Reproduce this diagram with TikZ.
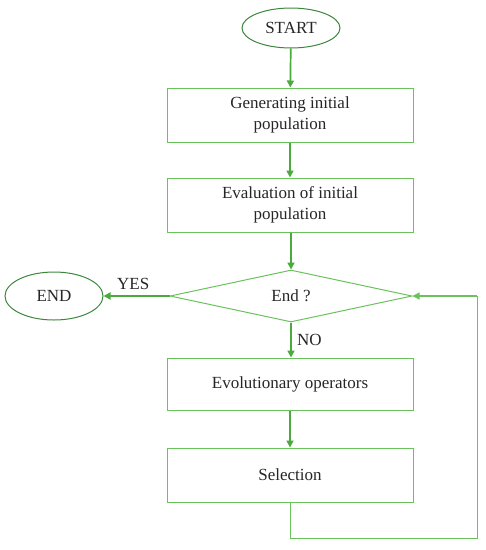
\documentclass[tikz,border=0pt]{standalone}
\usepackage{fontspec}
\setmainfont{Liberation Serif}
\usetikzlibrary{shapes.geometric,arrows.meta}
\definecolor{lgreen}{RGB}{105,195,90}
\definecolor{dgreen}{RGB}{75,170,60}
\definecolor{egreen}{RGB}{60,135,60}
\begin{document}
\begin{tikzpicture}[x=1pt,y=-1pt,
  every node/.style={font=\fontsize{17}{21}\selectfont,text=black!85},
  procbox/.style={draw=lgreen,line width=1pt,minimum width=246pt,minimum height=54pt,align=center,inner sep=0pt},
  term/.style={draw=egreen,line width=1pt,ellipse,minimum width=98pt,minimum height=44pt,inner sep=0pt},
  dec/.style={draw=lgreen,line width=1pt,diamond,aspect=4.65,minimum width=242pt,minimum height=52pt,inner sep=0pt},
  flow/.style={draw=dgreen,line width=1.7pt,-{Triangle[length=7pt,width=7pt]}},
  loopline/.style={draw=lgreen,line width=1pt}]
\useasboundingbox (0,0) rectangle (486,550);
\node[term,minimum height=40pt] (start) at (291,28) {START};
\node[procbox] (gen) at (290,115) {Generating initial\\population};
\node[procbox] (eval) at (290,205) {Evaluation of initial\\population};
\node[dec] (d) at (291,296) {End ?};
\node[term,minimum height=48pt] (end) at (54,296) {END};
\node[procbox,minimum height=52pt] (evo) at (290,384) {Evolutionary operators};
\node[procbox] (sel) at (290,475) {Selection};
\coordinate (c1) at (sel.south |- 0,538);
\coordinate (c2) at (477,538);
\coordinate (c3) at (477,296);
\draw[flow] (start) -- (gen);
\draw[flow] (gen) -- (eval);
\draw[flow] (eval.south -| d.north) -- (d.north);
\draw[flow] (d.west) -- node[above,pos=0.55,yshift=2pt]{YES} (end.east);
\draw[flow] (d.south) -- node[right,xshift=2pt]{NO} (evo.north -| d.south);
\draw[flow] (evo.south -| sel.north) -- (sel.north);
\draw[loopline] (sel.south) -- (c1) -- (c2) -- (c3);
\draw[flow,line width=1.2pt,draw=lgreen] (c3) -- (d.east);
\end{tikzpicture}
\end{document}
